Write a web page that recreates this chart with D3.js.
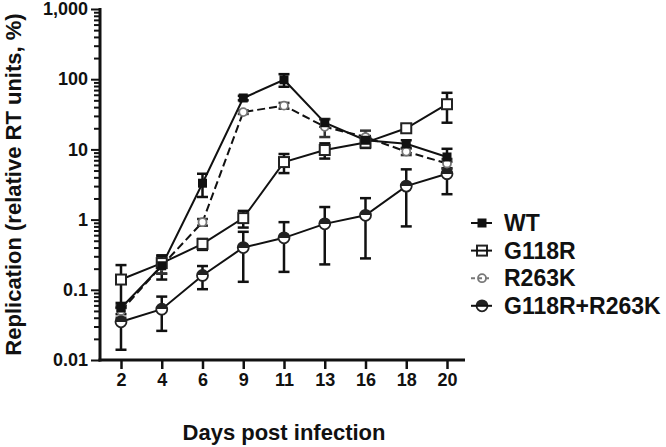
<!DOCTYPE html>
<html>
<head>
<meta charset="utf-8">
<title>Replication</title>
<script type="text/javascript" src="https://cdn.jsdelivr.net/npm/d3@7"></script>
<style>
body { margin: 0; background: #fff; }
text { font-family: "Liberation Sans", Arial, sans-serif; font-weight: bold; fill: #111; }
</style>
</head>
<body>
<div id="chart"></div>
<script type="text/javascript">
// data (mean and SD per day)
var days = ["2", "4", "6", "9", "11", "13", "16", "18", "20"];
var wt      = [0.055, 0.22, 3.3, 54, 98, 24, 13.5, 12, 7.8];
var wtSd    = [0.01, 0.08, 1.2, 4, 20, 3, 2, 1.5, 2.4];
var g118r   = [0.14, 0.24, 0.45, 1.05, 6.6, 9.8, 12.5, 20, 44];
var g118rSd = [0.085, 0.07, 0.08, 0.28, 2, 2.4, 2, 2.5, 20];
var r263k   = [0.05, 0.22, 0.92, 34, 42, 21, 15, 9.3, 6.3];
var r263kSd = [0.01, 0.05, 0.1, 2, 4, 6, 3.5, 1, 1];
var dbl     = [0.035, 0.053, 0.16, 0.40, 0.55, 0.87, 1.15, 3.0, 4.5];
var dblSd   = [0.021, 0.027, 0.058, 0.27, 0.37, 0.64, 0.87, 2.2, 2.2];
var seriesNames = ["WT", "G118R", "R263K", "G118R+R263K"];
var yMajor = [0.01, 0.1, 1, 10, 100, 1000];

var svgWidth = 666, svgHeight = 447;
var x0 = 100, x1 = 465, yTop = 9, yBottom = 360;

var svg = d3.select("#chart").append("svg")
    .attr("width", svgWidth)
    .attr("height", svgHeight);

var x = d3.scalePoint().domain(days).range([121, 447]);
var y = d3.scaleLog().domain([0.01, 1000]).range([yBottom, yTop]);

// half filled circle for the double mutant
var defs = svg.append("defs");
var grad = defs.append("linearGradient").attr("id", "half")
    .attr("x1", 0).attr("y1", 0).attr("x2", 0).attr("y2", 1);
grad.append("stop").attr("offset", "50%").attr("stop-color", "#222");
grad.append("stop").attr("offset", "50%").attr("stop-color", "#fff");

// minor ticks
var minor = [];
yMajor.slice(0, -1).forEach(function(m) {
    for (var k = 2; k <= 9; k++) minor.push(m * k);
});

var yMinorAxis = svg.append("g")
    .attr("transform", "translate(" + x0 + ",0)")
    .call(d3.axisLeft(y).tickValues(minor).tickSize(6).tickFormat(""));
yMinorAxis.select(".domain").remove();

var yAxis = svg.append("g")
    .attr("transform", "translate(" + x0 + ",0)")
    .call(d3.axisLeft(y).tickValues(yMajor).tickSize(9).tickPadding(3).tickFormat(d3.format(",")));
yAxis.select(".domain").remove();
yAxis.selectAll("text").style("font-size", "18px");

svg.selectAll(".tick line").attr("stroke", "#111").attr("stroke-width", 2);

var xAxis = svg.append("g")
    .attr("transform", "translate(0," + yBottom + ")")
    .call(d3.axisBottom(x).tickSize(9).tickPadding(4));
xAxis.select(".domain").remove();
xAxis.selectAll("text").style("font-size", "18px");
xAxis.selectAll(".tick line").attr("stroke", "#111").attr("stroke-width", 2.5);

// axis lines
svg.append("line").attr("x1", x0).attr("x2", x0).attr("y1", yTop - 1).attr("y2", yBottom + 1.5)
    .attr("stroke", "#111").attr("stroke-width", 3);
svg.append("line").attr("x1", x0 - 1.5).attr("x2", x1).attr("y1", yBottom).attr("y2", yBottom)
    .attr("stroke", "#111").attr("stroke-width", 3);

// axis titles
svg.append("text")
    .attr("transform", "translate(21," + (yTop + yBottom) / 2 + ") rotate(-90)")
    .attr("text-anchor", "middle")
    .style("font-size", "22px")
    .text("Replication (relative RT units, %)");

svg.append("text")
    .attr("x", 284)
    .attr("y", 440)
    .attr("text-anchor", "middle")
    .style("font-size", "22px")
    .text("Days post infection");

var series = [
    {name: "WT", vals: wt, sd: wtSd, dash: null, mark: "fsq", ecol: "#111"},
    {name: "G118R", vals: g118r, sd: g118rSd, dash: null, mark: "osq", ecol: "#111"},
    {name: "R263K", vals: r263k, sd: r263kSd, dash: "8,4", mark: "ocirc", ecol: "#333"},
    {name: "G118R+R263K", vals: dbl, sd: dblSd, dash: null, mark: "hcirc", ecol: "#111"}
];

var line = d3.line()
    .x(function(d, i) { return x(days[i]); })
    .y(function(d) { return y(d); });

// lines
series.forEach(function(s) {
    svg.append("path")
        .attr("d", line(s.vals))
        .attr("fill", "none")
        .attr("stroke", "#111")
        .attr("stroke-width", 2)
        .attr("stroke-dasharray", s.dash);
});

// error bars
series.forEach(function(s) {
    var g = svg.append("g").attr("stroke", s.ecol).attr("stroke-width", 2.5);
    s.vals.forEach(function(v, i) {
        var cx = x(days[i]);
        var hi = y(v + s.sd[i]), lo = y(Math.max(v - s.sd[i], 0.0101));
        g.append("line").attr("x1", cx).attr("x2", cx).attr("y1", hi).attr("y2", lo);
        g.append("line").attr("x1", cx - 5.5).attr("x2", cx + 5.5).attr("y1", hi).attr("y2", hi);
        g.append("line").attr("x1", cx - 5.5).attr("x2", cx + 5.5).attr("y1", lo).attr("y2", lo);
    });
});

function drawMark(g, type, cx, cy) {
    if (type == "fsq") {
        g.append("rect").attr("x", cx - 4.5).attr("y", cy - 4.5).attr("width", 9).attr("height", 9)
            .attr("fill", "#111");
    } else if (type == "osq") {
        g.append("rect").attr("x", cx - 5).attr("y", cy - 5).attr("width", 10).attr("height", 10)
            .attr("fill", "#fff").attr("stroke", "#222").attr("stroke-width", 2);
    } else if (type == "ocirc") {
        g.append("circle").attr("cx", cx).attr("cy", cy).attr("r", 4)
            .attr("fill", "#fff").attr("stroke", "#777").attr("stroke-width", 1.8);
    } else {
        g.append("circle").attr("cx", cx).attr("cy", cy).attr("r", 5.5)
            .attr("fill", "url(#half)").attr("stroke", "#222").attr("stroke-width", 1.8);
    }
}

// markers, WT on top
[3, 2, 1, 0].forEach(function(k) {
    var s = series[k];
    var g = svg.append("g");
    s.vals.forEach(function(v, i) {
        drawMark(g, s.mark, x(days[i]), y(v));
    });
});

// legend
var legend = svg.append("g");
series.forEach(function(s, i) {
    var ly = 223 + i * 27.6;
    var g = legend.append("g");
    drawMark(g, s.mark, 482, ly);
    g.append("line").attr("x1", 471).attr("x2", 492).attr("y1", ly).attr("y2", ly)
        .attr("stroke", s.mark == "ocirc" ? "#777" : "#111").attr("stroke-width", 2)
        .attr("stroke-dasharray", s.dash ? "4,3" : null);
    g.append("text")
        .attr("x", 504)
        .attr("y", ly + 8)
        .style("font-size", "23px")
        .text(s.name);
});
</script>
</body>
</html>
